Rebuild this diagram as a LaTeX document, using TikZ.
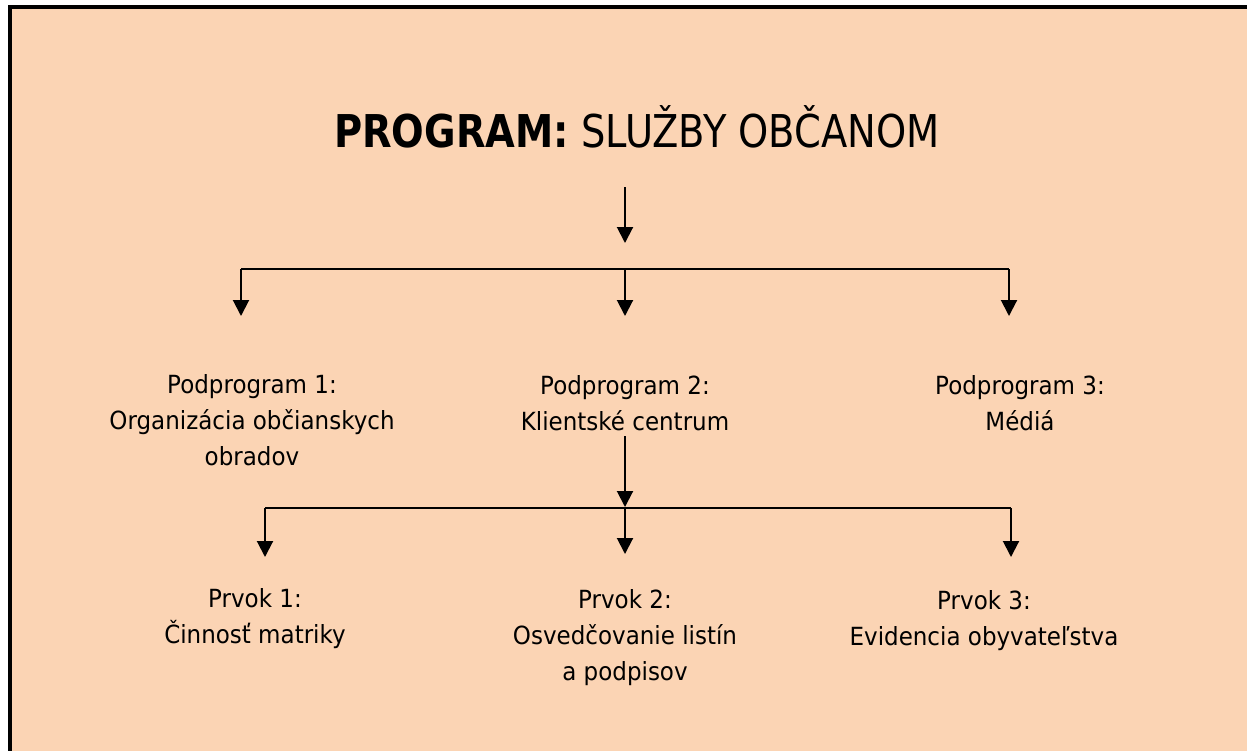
\documentclass[tikz,border=0pt]{standalone}
\usepackage{fontspec}
\setmainfont{DejaVu Sans}[FakeStretch=0.92]
\newfontfamily\titlefont{DejaVu Sans}[FakeStretch=0.85]
\usetikzlibrary{arrows.meta}
\definecolor{peach}{HTML}{FBD4B4}
\begin{document}
\begin{tikzpicture}[x=0.5pt,y=-0.5pt,
  conn/.style={line width=1pt,black},
  arr/.style={conn,-{Triangle[width=8pt,length=8pt]}},
  lbl/.style={anchor=base,align=center,inner sep=0pt,font=\fontsize{12.5pt}{18pt}\selectfont},
  ttl/.style={anchor=base,inner sep=0pt,font=\titlefont\fontsize{22.6pt}{26pt}\selectfont}]
\useasboundingbox (0,0) rectangle (1247,751);
\fill[white] (0,0) rectangle (1247,751);
\fill[peach] (12,9) rectangle (1247,751);
\fill[black] (8,5) rectangle (12,751);
\fill[black] (8,5) rectangle (1247,9);
% title
\node[ttl] (title) at (637,147) {\textbf{PROGRAM:} SLUŽBY OBČANOM};
% level 1 (anchor = baseline of last line)
\node[lbl] (sub1) at (252,465) {Podprogram 1:\\Organizácia občianskych\\obradov};
\node[lbl] (sub2) at (625,430) {Podprogram 2:\\Klientské centrum};
\node[lbl] (sub3) at (1020,430) {Podprogram 3:\\Médiá};
% level 2
\node[lbl] (el1) at (255,643) {Prvok 1:\\Činnosť matriky};
\node[lbl] (el2) at (625,680) {Prvok 2:\\Osvedčovanie listín\\a podpisov};
\node[lbl] (el3) at (984,645) {Prvok 3:\\Evidencia obyvateľstva};
% coordinates
\coordinate (t0) at (625,187);
\coordinate (t1) at (625,243);
\coordinate (b1l) at (241,269);
\coordinate (b1m) at (625,269);
\coordinate (b1r) at (1009,269);
\coordinate (a1l) at (241,316);
\coordinate (a1m) at (625,316);
\coordinate (a1r) at (1009,316);
\coordinate (s0) at (625,436);
\coordinate (s1) at (625,507);
\coordinate (b2l) at (265,508);
\coordinate (b2m) at (625,508);
\coordinate (b2r) at (1011,508);
\coordinate (a2l) at (265,557);
\coordinate (a2m) at (625,554);
\coordinate (a2r) at (1011,557);
% connectors
\draw[arr] (t0) -- (t1);
\draw[conn] (b1l) -- (b1r);
\draw[arr] (b1l) -- (a1l);
\draw[arr] (b1m) -- (a1m);
\draw[arr] (b1r) -- (a1r);
\draw[arr] (s0) -- (s1);
\draw[conn] (b2l) -- (b2r);
\draw[arr] (b2l) -- (a2l);
\draw[arr] (b2m) -- (a2m);
\draw[arr] (b2r) -- (a2r);
\end{tikzpicture}
\end{document}
